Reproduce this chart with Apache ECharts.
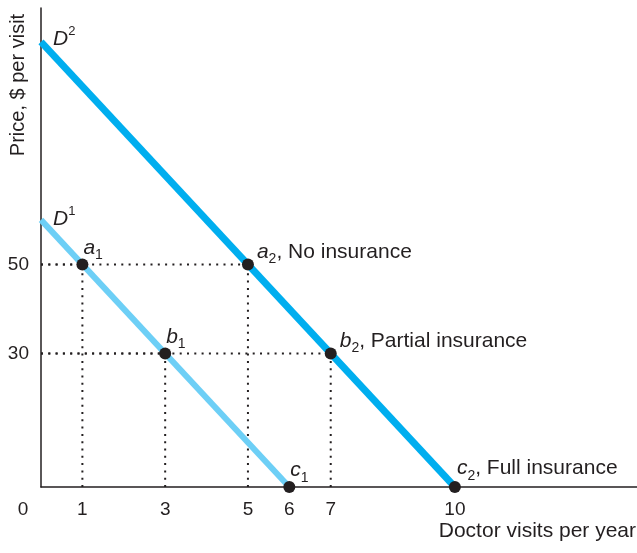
<!DOCTYPE html>
<html>
<head>
<meta charset="utf-8">
<script src="https://cdn.jsdelivr.net/npm/echarts@6/dist/echarts.min.js"></script>
<style>html,body{margin:0;padding:0;background:#fff;}#c{width:637px;height:553px;}</style>
</head>
<body>
<div id="c"></div>
<script>
// ---- data ----
const xTicks = [1, 3, 5, 6, 7, 10];
const yTicks = [30, 50];
const originLabel = '0';
const xTitle = 'Doctor visits per year';
const yTitle = 'Price, $ per visit';
const curveNames = ['D1', 'D2'];
const demand1 = [[0, 60], [6, 0]];
const demand2 = [[0, 100], [10, 0]];
const pointNames = ['a1', 'b1', 'c1', 'a2', 'b2', 'c2'];
const pointQty = [1, 3, 6, 5, 7, 10];
const pointPrice = [50, 30, 0, 50, 30, 0];
const pointNotes = ['', '', '', 'No insurance', 'Partial insurance', 'Full insurance'];

// ---- build ----
const FONT = '"Liberation Sans", Arial, Helvetica, sans-serif';
const TXT = '#231f20';
const rich = {
  i: {fontFamily: FONT, fontStyle: 'italic', fontSize: 21, color: TXT, lineHeight: 24, verticalAlign: 'top'},
  s: {fontFamily: FONT, fontSize: 14, color: TXT, lineHeight: 16, verticalAlign: 'top', padding: [11, 0, 0, 0]},
  n: {fontFamily: FONT, fontSize: 21, color: TXT, lineHeight: 24, verticalAlign: 'top'},
  D: {fontFamily: FONT, fontStyle: 'italic', fontSize: 21, color: TXT, lineHeight: 24, verticalAlign: 'top', padding: [4, 0, 0, 0]},
  p: {fontFamily: FONT, fontSize: 13, color: TXT, lineHeight: 14, verticalAlign: 'top'}
};

const guides = [];
pointNames.forEach((n, k) => {
  const q = pointQty[k], p = pointPrice[k];
  if (p > 0) {
    guides.push([[0, p], [q, p]]);
    guides.push([[q, 0], [q, p]]);
  }
});

const guideSeries = guides.map(seg => ({
  type: 'line', data: seg, symbol: 'none', silent: true, z: 1,
  lineStyle: {color: '#231f20', width: 2, type: [2, 5.3], cap: 'butt'}
}));

const pointData = pointNames.map((n, k) => {
  const letter = n[0], sub = n.slice(1);
  let txt = '{i|' + letter + '}{s|' + sub + '}';
  const note = pointNotes[k];
  if (note) txt += '{n|, ' + note + '}';
  const hasNote = !!note;
  const isC = pointPrice[k] === 0;
  return {
    value: [pointQty[k], pointPrice[k]],
    label: {
      show: true, formatter: txt, rich: rich,
      position: hasNote ? (isC ? [8, 1] : [15, 7]) : [7, 3],
      align: 'left', verticalAlign: 'bottom'
    }
  };
});

const curveData = [demand1, demand2].map((d, k) => {
  const nm = curveNames[k];
  return {
    value: d[0],
    label: {
      show: true, formatter: '{D|' + nm[0] + '}{p|' + nm.slice(1) + '}', rich: rich,
      position: k === 0 ? [12, 9] : [12, 7], align: 'left', verticalAlign: 'bottom'
    }
  };
});
curveData.push({
  value: [0, 0],
  label: {show: true, formatter: originLabel, position: [-18, 23], align: 'center', verticalAlign: 'middle',
    fontFamily: FONT, fontSize: 19, color: TXT}
});

const option = {
  animation: false,
  backgroundColor: '#fff',
  grid: {left: 41, top: 8, right: 0, bottom: 66, containLabel: false},
  xAxis: {
    type: 'value', min: 0, max: 14.4, interval: 1,
    axisLine: {show: true, onZero: false, lineStyle: {color: '#231f20', width: 1.5}},
    axisTick: {show: false}, splitLine: {show: false},
    axisLabel: {
      show: true, margin: 13, fontFamily: FONT, fontSize: 19, color: TXT,
      showMinLabel: true, showMaxLabel: false,
      formatter: v => xTicks.indexOf(Math.round(v * 100) / 100) >= 0 ? String(v) : ''
    }
  },
  yAxis: {
    type: 'value', min: 0, max: 107.6, interval: 10,
    axisLine: {show: true, onZero: false, lineStyle: {color: '#231f20', width: 1.5}},
    axisTick: {show: false}, splitLine: {show: false},
    axisLabel: {
      show: true, margin: 12, fontFamily: FONT, fontSize: 19, color: TXT,
      showMaxLabel: false,
      formatter: v => yTicks.indexOf(Math.round(v * 100) / 100) >= 0 ? String(v) : ''
    }
  },
  graphic: [
    {type: 'text', x: 18, y: 85, rotation: Math.PI / 2,
      style: {text: yTitle, fontFamily: FONT, fontSize: 20, fill: TXT, align: 'center', verticalAlign: 'middle'}},
    {type: 'text', x: 636, y: 531,
      style: {text: xTitle, fontFamily: FONT, fontSize: 21, fill: TXT, align: 'right', verticalAlign: 'middle'}}
  ],
  series: guideSeries.concat([
    {type: 'line', data: demand1, symbol: 'none', z: 3, lineStyle: {color: '#6dcff6', width: 6, cap: 'butt'}},
    {type: 'line', data: demand2, symbol: 'none', z: 3, lineStyle: {color: '#00aeef', width: 7, cap: 'butt'}},
    {type: 'scatter', data: pointData, symbol: 'circle', symbolSize: 12, z: 5,
      itemStyle: {color: '#231f20', opacity: 1}},
    {type: 'scatter', data: curveData, symbolSize: 0, z: 5, itemStyle: {color: 'transparent', opacity: 1}}
  ])
};

const chart = echarts.init(document.getElementById('c'), null, {renderer: 'canvas'});
chart.setOption(option);
</script>
</body>
</html>
